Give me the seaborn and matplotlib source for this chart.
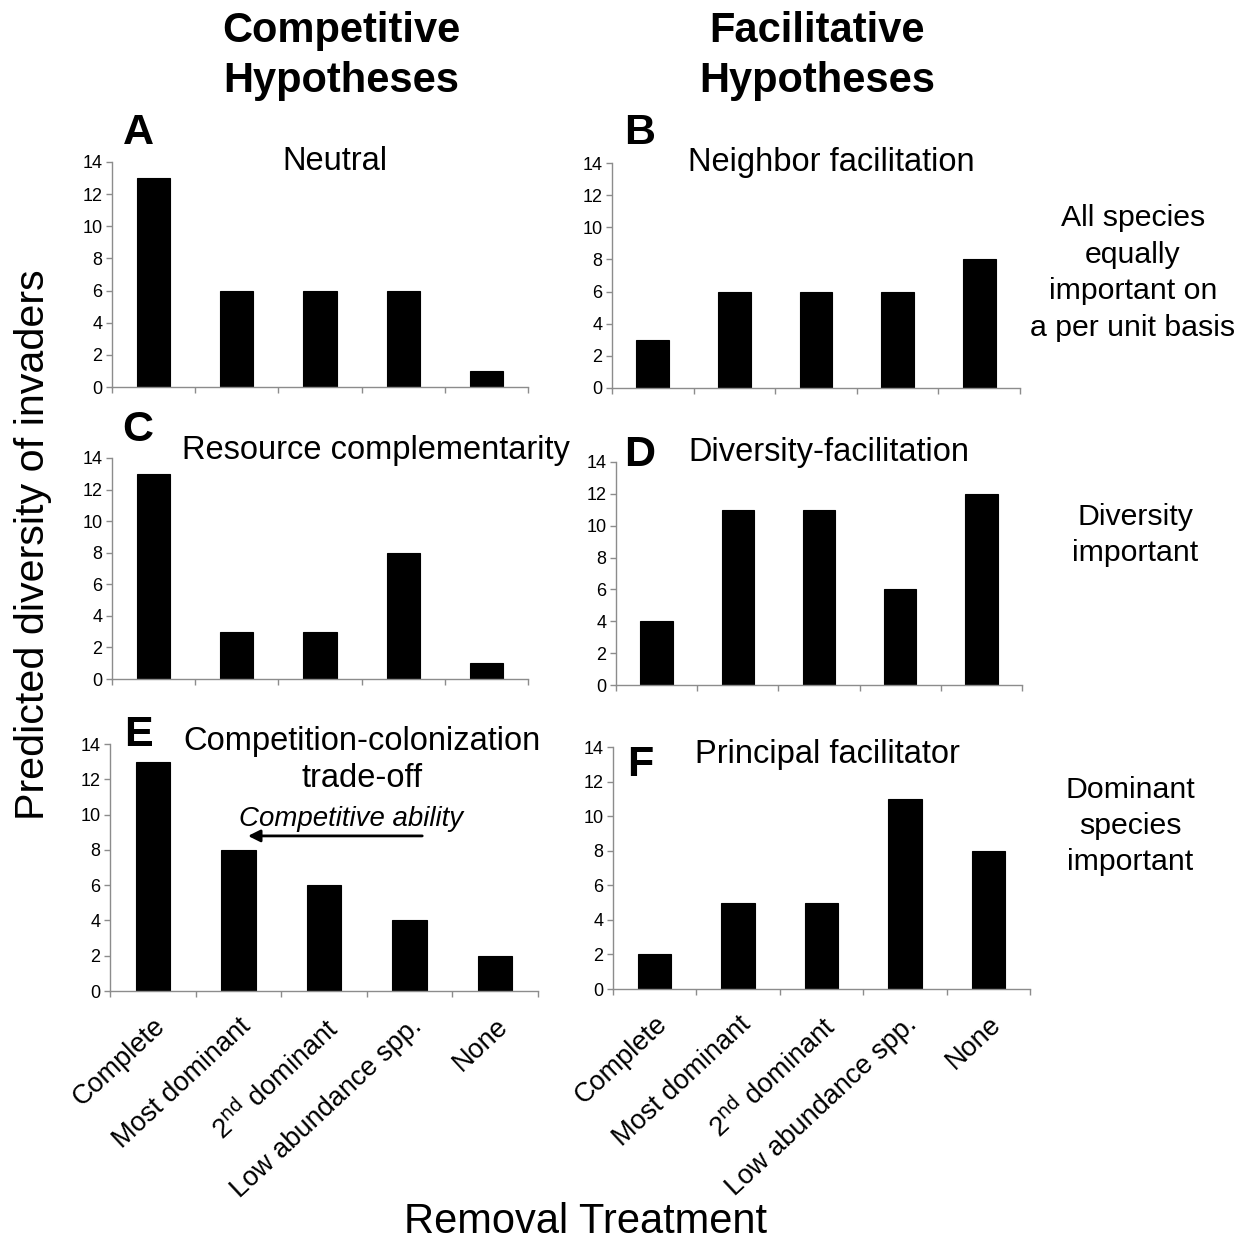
import matplotlib
matplotlib.use("Agg")
import matplotlib.pyplot as plt
import seaborn as sns
import numpy as np

# ---- data ----
categories = ["Complete", "Most dominant", "2$^{\\rm nd}$ dominant", "Low abundance spp.", "None"]
neutral = [13, 6, 6, 6, 1]
neighbor_facilitation = [3, 6, 6, 6, 8]
resource_complementarity = [13, 3, 3, 8, 1]
diversity_facilitation = [4, 11, 11, 6, 12]
competition_colonization = [13, 8, 6, 4, 2]
principal_facilitator = [2, 5, 5, 11, 8]
yticks = [0, 2, 4, 6, 8, 10, 12, 14]

panel_letters = ["A", "B", "C", "D", "E", "F"]
panel_titles = ["Neutral", "Neighbor facilitation", "Resource complementarity",
                "Diversity-facilitation", "Competition-colonization\ntrade-off",
                "Principal facilitator"]
column_headers = ["Competitive\nHypotheses", "Facilitative\nHypotheses"]
row_labels = ["All species\nequally\nimportant on\na per unit basis",
              "Diversity\nimportant",
              "Dominant\nspecies\nimportant"]

sns.set_theme(style="white")
plt.rcParams['font.family'] = ['Liberation Sans', 'DejaVu Sans']
plt.rcParams['text.color'] = 'black'
plt.rcParams['axes.labelcolor'] = 'black'
plt.rcParams['xtick.color'] = 'black'
plt.rcParams['ytick.color'] = 'black'
NARROW = ['Liberation Sans Narrow', 'Liberation Sans', 'DejaVu Sans']

W, H = 1245, 1243
fig = plt.figure(figsize=(W / 100, H / 100), dpi=100)

def rect(l, r, t, b):
    return [l / W, 1 - b / H, (r - l) / W, (b - t) / H]

# pixel boxes: left, right, top(y=14), bottom(y=0)
boxes = [(112, 528, 162, 387), (612, 1020, 163, 388),
         (112, 528, 458, 679), (616, 1022, 462, 685),
         (110, 538, 744, 991), (613, 1030, 747, 989)]
values = [neutral, neighbor_facilitation, resource_complementarity,
          diversity_facilitation, competition_colonization, principal_facilitator]

axes = []
for i, (box, vals) in enumerate(zip(boxes, values)):
    ax = fig.add_axes(rect(*box))
    axes.append(ax)
    sns.barplot(x=list(range(len(categories))), y=vals, ax=ax, color="black",
                width=0.4, edgecolor="black", linewidth=0.8, saturation=1)
    ax.set_xlim(-0.5, len(categories) - 0.5)
    ax.set_ylim(0, 14)
    ax.set_yticks(yticks)
    ax.set_yticklabels([str(t) for t in yticks], family=NARROW, fontsize=13, color="black")
    for s in ["top", "right"]:
        ax.spines[s].set_visible(False)
    for s in ["left", "bottom"]:
        ax.spines[s].set_color("#8c8c8c")
        ax.spines[s].set_linewidth(1.0)
    ax.tick_params(axis="y", direction="out", length=4, width=1, color="#8c8c8c",
                   labelcolor="black", pad=3, left=True)
    ax.set_xticks(np.arange(-0.5, len(categories), 1.0))
    ax.set_xticklabels([])
    ax.tick_params(axis="x", which="major", direction="out", length=4, width=1,
                   color="#8c8c8c", bottom=True)
    ax.set_xlabel("")
    ax.set_ylabel("")
    if i >= 4:
        ax.set_xticks(np.arange(len(categories)), minor=True)
        ax.set_xticklabels(categories, minor=True, rotation=43, ha="right",
                           rotation_mode="anchor", fontsize=19.5, color="black")
        ax.tick_params(axis="x", which="minor", length=0, pad=16)

# titles and panel letters
title_pos = [(335, 162), (831, 162), (376, 450), (829, 452), (362, 760), (827, 755)]
letter_pos = [(138, 133), (640, 133), (138, 430), (640, 455), (138, 735), (640, 765)]
for (tx, ty), t in zip(title_pos, panel_titles):
    fig.text(tx / W, 1 - ty / H, t, ha="center", va="center", fontsize=23.5, linespacing=1.25)
for (lx, ly), l in zip(letter_pos, panel_letters):
    fig.text(lx / W, 1 - ly / H, l, ha="center", va="center", fontsize=31, fontweight="bold")

# column headers
for x, h in zip([341, 817], column_headers):
    fig.text(x / W, 1 - 56 / H, h, ha="center", va="center", fontsize=30,
             fontweight="bold", linespacing=1.3)

# row labels
for (x, y), r in zip([(1133, 273), (1135, 535), (1130, 826)], row_labels):
    fig.text(x / W, 1 - y / H, r, ha="center", va="center", fontsize=21.8, linespacing=1.38)

# axis labels
fig.text(33 / W, 1 - 545 / H, "Predicted diversity of invaders", rotation=90,
         ha="center", va="center", fontsize=29.7)
fig.text(586 / W, 1 - 1222 / H, "Removal Treatment", ha="center", va="center", fontsize=30)

# arrow annotation in panel E
axE = axes[4]
axE.annotate("", xy=(1.08, 8.79), xytext=(3.18, 8.79),
             arrowprops=dict(arrowstyle="-|>,head_length=0.6,head_width=0.3",
                             color="black", lw=2), annotation_clip=False)
axE.text(2.32, 9.75, "Competitive ability", ha="center", va="center",
         fontsize=19.9, style="italic")

fig.savefig("out.png", dpi=100)
